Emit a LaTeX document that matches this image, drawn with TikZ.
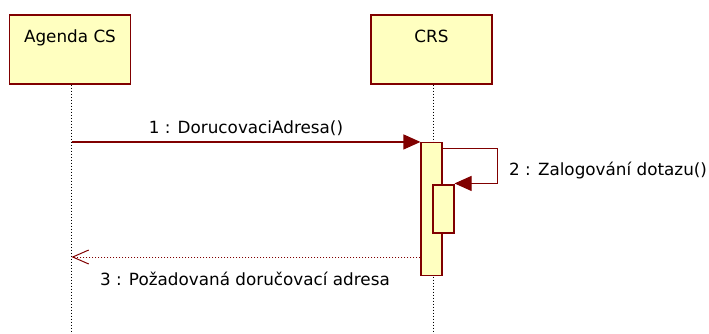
\documentclass[tikz,border=0pt]{standalone}
\usepackage{fontspec}
\setmainfont{DejaVu Sans}
\usetikzlibrary{arrows.meta,positioning}
\definecolor{umlred}{RGB}{128,0,0}
\definecolor{umlfill}{RGB}{255,255,192}

\begin{document}
\begin{tikzpicture}[x=1pt,y=-1pt,font=\fontsize{16.8}{20}\selectfont,
  lifebox/.style={draw=umlred,line width=1.3pt,fill=umlfill,minimum width=121pt,minimum height=69pt,inner sep=0pt},
  actbar/.style={draw=umlred,line width=1.1pt,fill=umlfill,inner sep=0pt,minimum width=21pt},
  lifeline/.style={line width=1pt,dash pattern=on 1pt off 2pt},
  callmsg/.style={umlred,line width=1.1pt,-{Triangle[length=17pt,width=15pt]}},
  retmsg/.style={umlred,line width=0.9pt,dash pattern=on 1pt off 2pt,-{Straight Barb[length=16pt,width=14pt,line width=1pt]}},
  msglabel/.style={text=black,inner sep=0pt}]
  \useasboundingbox (0,0) rectangle (709,334);

  %%%%% lifelines %%%%%
  \node[lifebox] (agenda) at (70,49.5) {};
  \node[below=15pt of agenda.north,inner sep=0pt] (agendaname) {Agenda CS};
  \node[lifebox] (crs) at (431.5,49.5) {};
  \node[below=15pt of crs.north,inner sep=0pt] (crsname) {CRS};

  \coordinate (agendaend) at (71.5,334);
  \coordinate (crsend) at (433,334);
  \draw[lifeline] (agendaend |- agenda.south) -- (agendaend);
  \draw[lifeline] (crsend |- crs.south) -- (crsend);

  %%%%% activations %%%%%
  \node[actbar,minimum height=133pt] (act) at (431.5,209) {};
  \node[actbar,minimum height=48pt] (nested) at (443.5,209) {};

  %%%%% messages %%%%%
  \coordinate (call) at (agendaend |- act.north);
  \draw[callmsg] (call) -- (act.north west)
    node[midway,above=6pt,msglabel] (calllabel) {1 : DorucovaciAdresa()};

  \draw[callmsg] ([yshift=-6.5pt]act.north east) -- ++(55,0) |- ([yshift=1pt]nested.north east);
  \node[anchor=west,msglabel] (selflabel) at (509,171) {2 : Zalogování dotazu()};

  \coordinate (ret) at (agendaend |- 0,257);
  \draw[retmsg] (act.west |- ret) -- (ret);
  \node[anchor=west,msglabel] (retlabel) at (100,278.5) {3 : Požadovaná doručovací adresa};
\end{tikzpicture}
\end{document}
